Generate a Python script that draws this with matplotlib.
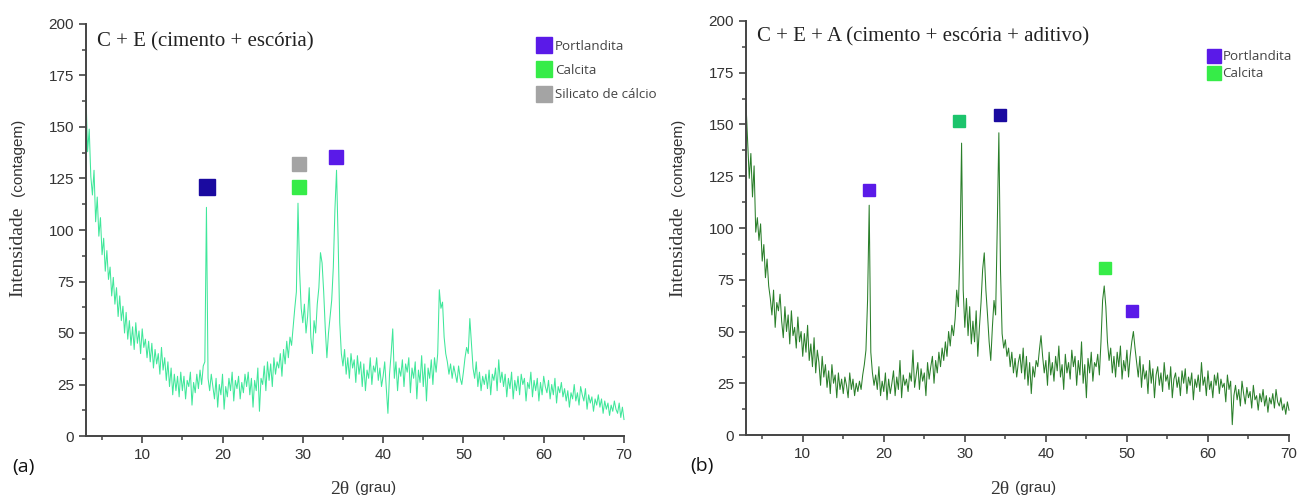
import matplotlib
matplotlib.use("Agg")
import matplotlib.pyplot as plt
from matplotlib.lines import Line2D
import numpy as np

# sampling of both XRD scans: 2theta from 3 to 70 deg, step 0.2
two_theta_start, two_theta_step = 3.0, 0.2

# (a) C + E  -- intensity, one row = 2 deg
counts_a = [
    165, 138, 149, 126, 117, 129, 104, 116, 97, 106,
    88, 96, 80, 90, 76, 82, 68, 77, 64, 72,
    58, 68, 56, 63, 50, 60, 47, 56, 44, 53,
    42, 55, 45, 51, 40, 52, 43, 47, 38, 46,
    36, 45, 33, 42, 35, 40, 30, 43, 32, 38,
    27, 36, 24, 33, 20, 30, 22, 29, 19, 31,
    22, 29, 18, 27, 24, 31, 15, 26, 21, 30,
    23, 32, 25, 34, 36, 111, 28, 22, 30, 24,
    18, 28, 14, 25, 20, 30, 13, 24, 19, 28,
    22, 31, 17, 27, 23, 29, 18, 26, 21, 30,
    24, 31, 20, 28, 14, 27, 22, 33, 12, 28,
    25, 34, 22, 36, 27, 35, 24, 38, 30, 36,
    33, 40, 29, 42, 35, 46, 38, 48, 44, 53,
    62, 70, 113, 80, 62, 55, 64, 50, 58, 72,
    48, 40, 56, 50, 64, 72, 89, 84, 70, 52,
    38, 50, 58, 66, 82, 110, 129, 95, 55, 40,
    34, 42, 30, 38, 28, 40, 33, 37, 26, 39,
    30, 36, 24, 35, 22, 32, 28, 38, 25, 34,
    31, 38, 27, 33, 24, 29, 36, 23, 11, 30,
    40, 52, 28, 36, 22, 33, 29, 37, 24, 35,
    31, 38, 21, 33, 28, 36, 18, 32, 26, 39,
    24, 35, 17, 33, 28, 37, 25, 38, 31, 40,
    71, 62, 65, 48, 40, 36, 30, 35, 28, 34,
    30, 26, 34, 28, 25, 31, 38, 43, 40, 57,
    45, 33, 28, 36, 24, 31, 22, 29, 25, 30,
    23, 32, 20, 30, 27, 33, 22, 37, 26, 31,
    24, 30, 19, 28, 23, 31, 18, 27, 22, 29,
    20, 30, 25, 28, 17, 26, 23, 31, 19, 27,
    22, 28, 17, 26, 20, 29, 24, 21, 27, 18,
    25, 20, 28, 16, 24, 21, 26, 19, 23, 17,
    22, 14, 21, 18, 25, 17, 21, 15, 24, 20,
    17, 23, 13, 20, 16, 19, 12, 18, 15, 20,
    14, 18, 11, 17, 13, 16, 10, 15, 12, 17,
    13, 11, 16, 9, 14, 8,
]

# (b) C + E + A
counts_b = [
    160, 142, 124, 136, 115, 130, 98, 105, 94, 102,
    84, 92, 76, 85, 72, 66, 58, 70, 52, 64,
    60, 68, 55, 47, 62, 50, 58, 44, 60, 48,
    52, 42, 57, 45, 50, 38, 49, 40, 53, 36,
    44, 33, 47, 30, 41, 35, 24, 38, 28, 34,
    23, 31, 20, 34, 25, 29, 18, 30, 22, 27,
    20, 28, 24, 18, 30, 22, 27, 19, 25, 21,
    26, 22, 29, 34, 41, 65, 111, 40, 30, 24,
    29, 22, 33, 19, 26, 21, 30, 17, 27, 20,
    25, 31, 19, 28, 22, 36, 18, 29, 24, 27,
    21, 30, 26, 41, 23, 29, 35, 22, 32, 26,
    30, 19, 35, 27, 33, 38, 25, 36, 30, 40,
    33, 42, 36, 45, 38, 50, 43, 53, 48, 56,
    70, 62, 88, 141, 70, 52, 66, 48, 62, 44,
    55, 45, 60, 38, 52, 64, 80, 88, 70, 58,
    45, 36, 52, 65, 58, 100, 146, 80, 49, 42,
    46, 38, 42, 33, 40, 30, 37, 28, 35, 39,
    30, 42, 27, 38, 24, 35, 20, 33, 28, 36,
    33, 41, 48, 38, 30, 36, 24, 40, 29, 35,
    26, 38, 31, 43, 28, 34, 22, 39, 30, 35,
    27, 41, 33, 38, 24, 36, 29, 45, 25, 34,
    18, 37, 30, 40, 26, 35, 33, 39, 29, 45,
    65, 72, 62, 45, 36, 42, 30, 38, 28, 40,
    33, 43, 27, 36, 31, 41, 28, 38, 45, 50,
    42, 35, 28, 38, 23, 34, 27, 31, 20, 36,
    25, 32, 18, 29, 33, 24, 30, 21, 35, 26,
    29, 22, 33, 18, 27, 30, 23, 28, 19, 31,
    25, 32, 20, 28, 24, 30, 17, 27, 23, 29,
    21, 35, 24, 28, 19, 31, 22, 26, 18, 29,
    24, 30, 20, 27, 23, 25, 16, 29, 22, 26,
    5, 19, 24, 17, 22, 14, 26, 20, 15, 23,
    18, 21, 13, 24, 17, 19, 12, 20, 16, 22,
    14, 19, 11, 18, 15, 20, 13, 22, 16, 14,
    18, 12, 15, 10, 16, 12,
]

# phase markers (2theta, intensity, colour, size)
marks_a_x = [18.1, 29.5, 29.5, 34.1]
marks_a_y = [120.9, 121.0, 132.0, 135.4]
marks_a_c = ["#1a0aa0", "#36ec48", "#a4a4a4", "#5a1ae8"]
marks_a_s = [12, 10, 10, 10]

marks_b_x = [18.2, 29.3, 34.3, 47.3, 50.6]
marks_b_y = [118.5, 151.5, 154.5, 80.5, 59.8]
marks_b_c = ["#5a1ae8", "#1cc46c", "#1a0aa0", "#36ec48", "#5a1ae8"]
marks_b_s = [8.5, 8.5, 8.5, 8.5, 8.5]

legend_a = ["Portlandita", "Calcita", "Silicato de cálcio"]
legend_a_c = ["#5a1ae8", "#36ec48", "#a4a4a4"]
legend_b = ["Portlandita", "Calcita"]
legend_b_c = ["#5a1ae8", "#36ec48"]

y_ticks = [0, 25, 50, 75, 100, 125, 150, 175, 200]
x_ticks = [10, 20, 30, 40, 50, 60, 70]

SERIF = ["Liberation Serif", "DejaVu Serif"]
SANS = ["Liberation Sans", "DejaVu Sans"]


def style_axis(ax):
    ax.set_xlim(3, 70)
    ax.set_ylim(0, 200)
    ax.set_xticks(x_ticks)
    ax.set_xticks(np.arange(5, 70, 10), minor=True)
    ax.set_yticks(y_ticks)
    ax.set_yticks(np.arange(12.5, 200, 25), minor=True)
    for s in ["top", "right"]:
        ax.spines[s].set_visible(False)
    for s in ["left", "bottom"]:
        ax.spines[s].set_color("#444444")
        ax.spines[s].set_linewidth(1.4)
    ax.tick_params(which="major", direction="out", length=5, width=1.2,
                   color="#444444", labelsize=11, labelcolor="#333333")
    ax.tick_params(which="minor", direction="out", length=3, width=1.1,
                   color="#444444")
    for lab in ax.get_xticklabels() + ax.get_yticklabels():
        lab.set_family(SANS)


fig = plt.figure(figsize=(12.98, 4.98), dpi=100)
ax1 = fig.add_axes([86 / 1298, 62 / 498, 538 / 1298, 412 / 498])
ax2 = fig.add_axes([746 / 1298, 63 / 498, 543 / 1298, 414 / 498])

x_a = two_theta_start + two_theta_step * np.arange(len(counts_a))
x_b = two_theta_start + two_theta_step * np.arange(len(counts_b))

ax1.plot(x_a, counts_a, color="#3fe79a", lw=0.75, clip_on=False)
ax2.plot(x_b, counts_b, color="#2a7f2a", lw=0.75, clip_on=False)

for x, y, c, s in zip(marks_a_x, marks_a_y, marks_a_c, marks_a_s):
    ax1.plot(x, y, "s", color=c, markersize=s, mec=c)
for x, y, c, s in zip(marks_b_x, marks_b_y, marks_b_c, marks_b_s):
    ax2.plot(x, y, "s", color=c, markersize=s, mec=c)

style_axis(ax1)
style_axis(ax2)

ax1.text(0.02, 0.956, "C + E (cimento + escória)", transform=ax1.transAxes,
         family=SERIF, fontsize=15, va="center", ha="left", color="#222222")
ax2.text(0.02, 0.961, "C + E + A (cimento + escória + aditivo)", transform=ax2.transAxes,
         family=SERIF, fontsize=15, va="center", ha="left", color="#222222")

h_a = [Line2D([], [], ls="", marker="s", color=c, markersize=11) for c in legend_a_c]
lg = ax1.legend(h_a, legend_a, loc="upper left", bbox_to_anchor=(0.826, 0.978),
                frameon=False, borderpad=0, labelspacing=0.85, handletextpad=0.35,
                handlelength=1.0, prop={"family": "Open Sans", "size": 9.6})
for t in lg.get_texts():
    t.set_color("#444444")
h_b = [Line2D([], [], ls="", marker="s", color=c, markersize=9.5) for c in legend_b_c]
lg = ax2.legend(h_b, legend_b, loc="upper left", bbox_to_anchor=(0.838, 0.945),
                frameon=False, borderpad=0, labelspacing=0.3, handletextpad=0.1,
                handlelength=1.0, prop={"family": "Open Sans", "size": 9.6})
for t in lg.get_texts():
    t.set_color("#444444")

# axis titles, serif word + sans bracket as in the original
for xl in [18, 678]:
    fig.text(xl / 1298, 1 - 252 / 498, "Intensidade", rotation=90, family=SERIF,
             fontsize=14, ha="center", va="center", color="#333333")
    fig.text(xl / 1298, 1 - 157 / 498, "(contagem)", rotation=90, family=SANS,
             fontsize=11, ha="center", va="center", color="#333333")
for xl in [340, 1000]:
    fig.text(xl / 1298, 1 - 489 / 498, "2θ", family=SERIF, fontsize=14,
             ha="center", va="center", color="#333333")
    fig.text((xl + 15) / 1298, 1 - 488 / 498, "(grau)", family=SANS, fontsize=11,
             ha="left", va="center", color="#333333")

fig.text(12 / 1298, 1 - 467 / 498, "(a)", family=["Open Sans", "DejaVu Sans"],
         fontsize=14, ha="left", va="center", color="#111111")
fig.text(690 / 1298, 1 - 466 / 498, "(b)", family=["Open Sans", "DejaVu Sans"],
         fontsize=14, ha="left", va="center", color="#111111")

fig.savefig("out.png", dpi=100)
